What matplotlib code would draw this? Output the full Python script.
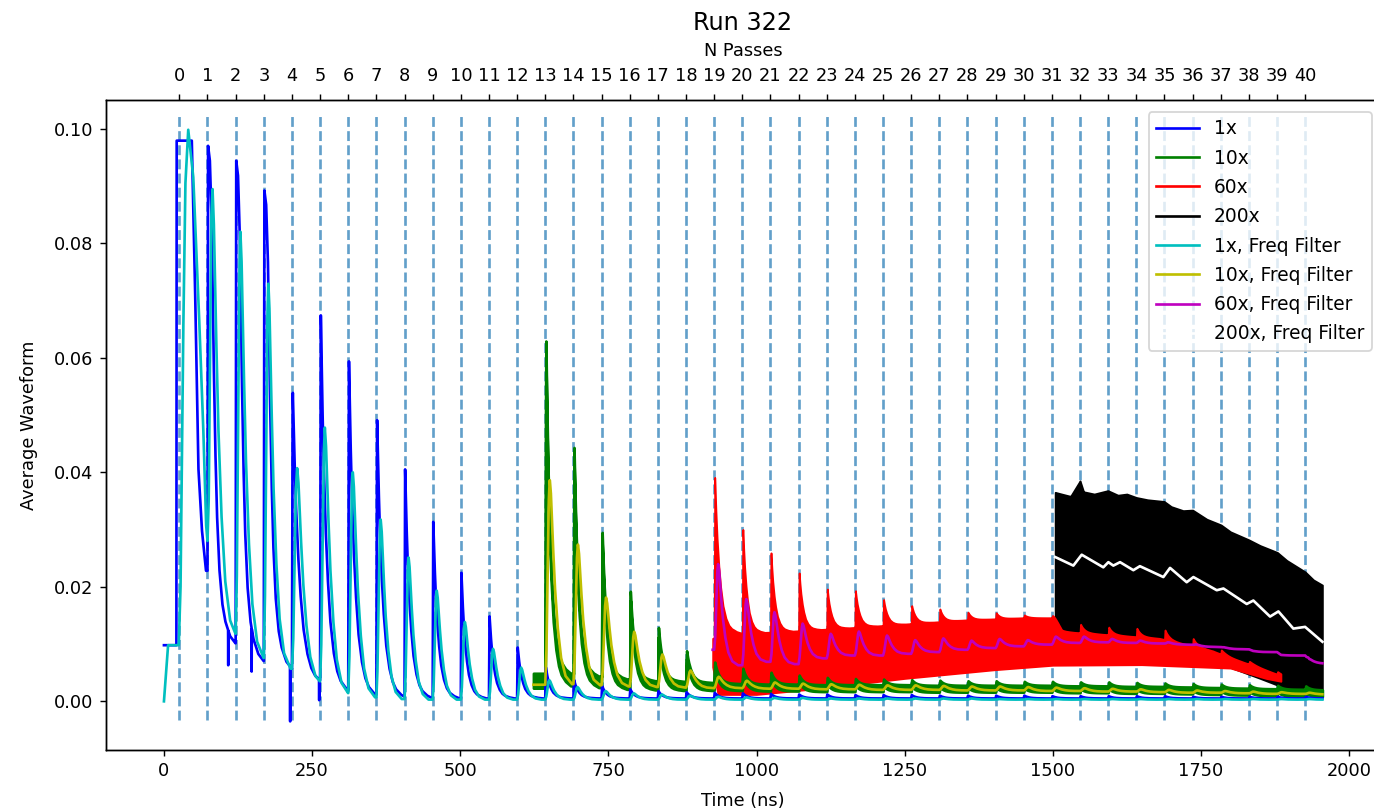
import numpy as np
import matplotlib
matplotlib.use("Agg")
import matplotlib.pyplot as plt
from matplotlib.lines import Line2D

# ---------------------------------------------------------------- pass timing
PASS_START = 26.0          # ns, time of pass 0
PASS_PERIOD = 47.5         # ns between passes
N_PASSES = 41
pass_times = PASS_START + PASS_PERIOD * np.arange(N_PASSES)
pass_labels = [str(i) for i in range(N_PASSES)]

T_END = 1955.0
RED_END = 1885.0

# normalised pulse shapes (ns after the pass -> fraction of the peak height)
RAW_DT = [0.0, 1.0, 3.0, 5.0, 8.0, 11.0, 15.0, 20.0, 25.0, 30.0, 38.0, 47.5]
RAW_SHAPE = [0.0, 1.0, 0.79, 0.62, 0.44, 0.31, 0.19, 0.107, 0.059, 0.033, 0.013, 0.0]
SAT_DT = [0.0, 1.0, 4.0, 7.0, 10.0, 13.0, 16.0, 20.0, 25.0, 30.0, 38.0, 47.5]
SAT_SHAPE = [0.0, 1.0, 0.97, 0.85, 0.6, 0.4, 0.26, 0.15, 0.08, 0.045, 0.015, 0.0]
FILT_DT = [0.0, 2.0, 4.0, 6.0, 8.0, 10.0, 13.0, 17.0, 22.0, 28.0, 36.0, 47.5]
FILT_SHAPE = [0.0, 0.15, 0.5, 0.88, 1.0, 0.93, 0.72, 0.48, 0.28, 0.13, 0.04, 0.0]

# ---------------------------------------------------------------- 1x
BLUE_P0_T = [0.0, 21.0, 21.5, 47.0, 52.0, 58.0, 64.0, 71.0, 73.5]
BLUE_P0_V = [0.0098, 0.0098, 0.0979, 0.0979, 0.075, 0.041, 0.030, 0.0228, 0.0228]
BLUE_PEAKS = [0.097, 0.0944, 0.0892, 0.0547, 0.068, 0.0599, 0.0498, 0.0405, 0.0315,
              0.0227, 0.015, 0.0095, 0.006, 0.0038, 0.0027, 0.0021, 0.0018, 0.0016,
              0.0015, 0.0014, 0.0013, 0.0012, 0.0012, 0.0011, 0.0011, 0.0011, 0.001,
              0.001, 0.001, 0.001, 0.0009, 0.0009, 0.0009, 0.0009, 0.0009, 0.0008,
              0.0008, 0.0008, 0.0008, 0.0008]
BLUE_FLOORS = [0.0101, 0.007, 0.0057, 0.0028, 0.0014, 0.0006] + [0.0005] * 34
BLUE_WIDTHS = [1.0, 1.0, 1.0, 1.3, 1.15, 1.15, 1.1, 1.0, 0.95] + [0.9] * 31
BLUE_DIP_T = [108.5, 148.0, 213.0, 262.0]
BLUE_DIP_V = [0.0063, 0.0052, -0.0035, 0.0002]

# ---------------------------------------------------------------- 1x, Freq Filter
CYAN_P0_T = [0.0, 7.0, 25.0, 28.0, 32.0, 36.0, 41.0, 49.5, 58.0, 66.0, 71.0, 73.5]
CYAN_P0_V = [0.0, 0.0098, 0.0098, 0.02, 0.06, 0.09, 0.0998, 0.0915, 0.0707, 0.049, 0.031, 0.028]
CYAN_PEAKS = [0.0895, 0.082, 0.0733, 0.0408, 0.0478, 0.0402, 0.0318, 0.0252, 0.0194,
              0.0139, 0.0092, 0.0059, 0.0037, 0.0025, 0.0018, 0.0014, 0.0012, 0.001,
              0.0008, 0.0007, 0.0006, 0.0006, 0.0005, 0.0005, 0.0005, 0.0005, 0.0005,
              0.0005, 0.0004, 0.0004, 0.0004, 0.0004, 0.0004, 0.0004, 0.0004, 0.0004,
              0.0004, 0.0004, 0.0004, 0.0004]
CYAN_FLOORS = [0.011, 0.0075, 0.0057, 0.0029, 0.0014, 0.0007, 0.0004] + [0.0003] * 33
CYAN_WIDTHS = [1.06, 1.0, 0.95, 1.1, 1.0, 0.95, 0.9, 0.85] + [0.85] * 32

# ---------------------------------------------------------------- 10x
GREEN_START = 623.5
GREEN_PRE = 0.0036
GREEN_PRE_NOISE = 0.0013
GREEN_PEAKS = [0.0625, 0.0438, 0.0289, 0.0186, 0.0122, 0.0082, 0.0063, 0.0052, 0.0045,
               0.004, 0.0036, 0.0034, 0.0033, 0.0032, 0.0031, 0.003, 0.003, 0.0029,
               0.0029, 0.0028, 0.0028, 0.0027, 0.0026, 0.0025, 0.0024, 0.0023, 0.0022,
               0.0021]
GREEN_FLOORS = [0.0038, 0.0034, 0.003, 0.0028, 0.0027, 0.0026, 0.0025, 0.0024, 0.0024,
                0.0023, 0.0023, 0.0023, 0.0023, 0.0022, 0.0022, 0.0022, 0.0022, 0.0022,
                0.0021, 0.0021, 0.002, 0.002, 0.0019, 0.0018, 0.0017, 0.0016, 0.0015,
                0.0014]
GREEN_NOISE = [0.0011, 0.001, 0.0009, 0.0008, 0.0008, 0.0007] + [0.0006] * 22
GREEN_WIDTHS = [0.9] * 28

# ---------------------------------------------------------------- 10x, Freq Filter
YELLOW_PRE = 0.0029
YELLOW_PEAKS = [0.0388, 0.0275, 0.0182, 0.0122, 0.0082, 0.0054, 0.0043, 0.0036, 0.0033,
                0.0031, 0.003, 0.0029, 0.0028, 0.0028, 0.0027, 0.0026, 0.0026, 0.0025,
                0.0024, 0.0023, 0.0022, 0.0021, 0.002, 0.0019, 0.0018, 0.0017, 0.0016,
                0.0015]
YELLOW_FLOORS = [0.003, 0.0028, 0.0026, 0.0025, 0.0024, 0.0023, 0.0023, 0.0022, 0.0022,
                 0.0021, 0.0021, 0.002, 0.002, 0.002, 0.0019, 0.0019, 0.0019, 0.0018,
                 0.0018, 0.0017, 0.0017, 0.0016, 0.0015, 0.0015, 0.0014, 0.0013, 0.0013,
                 0.0012]
YELLOW_WIDTHS = [0.95] * 28

# ---------------------------------------------------------------- 60x
RED_START = 926.0
RED_PEAKS = [0.0391, 0.0305, 0.0263, 0.0227, 0.0198, 0.0195, 0.0179, 0.0168, 0.0162,
             0.0156, 0.0155, 0.0151, 0.015, 0.0135, 0.013, 0.0128, 0.0125, 0.011, 0.009,
             0.007, 0.0052]
RED_WIDTHS = [1.0] + [0.8] * 20
RED_TOP_T = [926, 960, 1050, 1150, 1250, 1350, 1450, 1500, 1515, 1600, 1680, 1730,
             1770, 1800, 1840, 1885]
RED_TOP_V = [0.011, 0.0118, 0.0122, 0.0128, 0.0135, 0.0142, 0.0146, 0.0146, 0.0122,
             0.0116, 0.011, 0.0098, 0.0088, 0.0076, 0.0062, 0.0045]
RED_BOT_T = [926, 935, 1000, 1100, 1250, 1400, 1500, 1650, 1800, 1860, 1885]
RED_BOT_V = [0.006, 0.0012, 0.0012, 0.0022, 0.004, 0.0055, 0.0063, 0.0064, 0.0058,
             0.004, 0.0035]

# ---------------------------------------------------------------- 60x, Freq Filter
MAGENTA_PRE = 0.009
MAGENTA_PEAKS = [0.024, 0.0179, 0.0156, 0.0136, 0.0118, 0.0122, 0.0115, 0.0107, 0.011,
                 0.0106, 0.0109, 0.0107, 0.0113, 0.0113, 0.0109, 0.0106, 0.0103, 0.0099,
                 0.0094, 0.0088, 0.0081, 0.0074]
MAGENTA_FLOORS = [0.0063, 0.0069, 0.0065, 0.0075, 0.008, 0.008, 0.0083, 0.0086, 0.009,
                  0.0093, 0.0096, 0.0099, 0.0102, 0.0103, 0.0102, 0.0101, 0.0099, 0.0095,
                  0.0091, 0.0086, 0.008, 0.0066]
MAGENTA_WIDTHS = [0.85] * 22

# ---------------------------------------------------------------- 200x
BLACK_TOP_T = [1504, 1515, 1530, 1546, 1552, 1570, 1593, 1610, 1625, 1641, 1660, 1688,
               1700, 1720, 1736, 1760, 1784, 1800, 1831, 1850, 1879, 1895, 1926, 1940,
               1955]
BLACK_TOP_V = [0.0365, 0.0362, 0.0358, 0.0385, 0.0366, 0.0362, 0.0368, 0.036, 0.0362,
               0.0356, 0.0352, 0.0349, 0.034, 0.0333, 0.0334, 0.0318, 0.0308, 0.0296,
               0.0282, 0.0272, 0.026, 0.0246, 0.0226, 0.0212, 0.0203]
BLACK_BOT_T = [1504, 1560, 1620, 1680, 1740, 1790, 1850, 1880, 1920, 1955]
BLACK_BOT_V = [0.0122, 0.0118, 0.0114, 0.0105, 0.0085, 0.0063, 0.004, 0.0028, 0.0017,
               0.0012]

# ---------------------------------------------------------------- 200x, Freq Filter
WHITE_T = [1504, 1534.7, 1548.8, 1585.3, 1593.8, 1602.2, 1613.5, 1636, 1647, 1686.6,
           1697.9, 1726, 1737.3, 1776.7, 1788, 1827.3, 1838.5, 1866.7, 1880.8, 1906,
           1925.8, 1955]
WHITE_V = [0.0252, 0.0237, 0.0256, 0.0234, 0.0243, 0.0237, 0.0243, 0.0229, 0.0236,
           0.0217, 0.0233, 0.0208, 0.0217, 0.0194, 0.0197, 0.017, 0.0176, 0.0148,
           0.0157, 0.0127, 0.013, 0.0104]

# ---------------------------------------------------------------- pass markers
VLINE_LO = -0.0033
VLINE_HI = 0.1026

# ================================================================ waveform building
t = np.arange(0.0, T_END + 0.01, 0.25)


def pulse_train(first_pass, peaks, floors, widths, shape_dt, shape_val, start):
    """One pulse per pass: jump from the previous level to the peak, then
    decay towards that pass's floor following the given shape."""
    y = np.full(t.shape, np.nan)
    peak_dt = shape_dt[int(np.argmax(shape_val))]
    prev = start
    for i, (pk, fl, w) in enumerate(zip(peaks, floors, widths)):
        t0 = pass_times[first_pass + i]
        m = (t >= t0) & (t < t0 + PASS_PERIOD)
        if not m.any():
            continue
        dt = t[m] - t0
        rel = np.interp(dt / w, shape_dt, shape_val, left=0.0, right=0.0)
        fade = np.clip(1.0 - dt / (peak_dt * w), 0.0, 1.0)
        y[m] = fl + (pk - fl) * rel + (prev - fl) * fade
        prev = y[m][-1]
    return y


def merge(*parts):
    out = np.full(t.shape, np.nan)
    for p in parts:
        out = np.where(np.isnan(out), p, out)
    return out


def segment(t_from, t_to, values):
    y = np.full(t.shape, np.nan)
    m = (t >= t_from) & (t < t_to)
    y[m] = values[m] if np.ndim(values) else values
    return y


# 1x
blue_p0 = segment(0.0, pass_times[1], np.interp(t, BLUE_P0_T, BLUE_P0_V))
blue_sat = pulse_train(1, BLUE_PEAKS[:3], BLUE_FLOORS[:3], BLUE_WIDTHS[:3],
                       SAT_DT, SAT_SHAPE, BLUE_P0_V[-1])
blue_rest = pulse_train(4, BLUE_PEAKS[3:], BLUE_FLOORS[3:], BLUE_WIDTHS[3:],
                        RAW_DT, RAW_SHAPE, BLUE_FLOORS[2])
blue = merge(blue_p0, blue_sat, blue_rest)
for td, vd in zip(BLUE_DIP_T, BLUE_DIP_V):
    blue[np.argmin(np.abs(t - td))] = vd

# 1x filtered
cyan = merge(segment(0.0, pass_times[1], np.interp(t, CYAN_P0_T, CYAN_P0_V)),
             pulse_train(1, CYAN_PEAKS, CYAN_FLOORS, CYAN_WIDTHS, FILT_DT, FILT_SHAPE,
                         CYAN_P0_V[-1]))

# 10x (noisy band) and filtered
green = merge(segment(GREEN_START, pass_times[13], GREEN_PRE),
              pulse_train(13, GREEN_PEAKS, GREEN_FLOORS, GREEN_WIDTHS, RAW_DT, RAW_SHAPE,
                          GREEN_PRE))
green_noise = merge(segment(GREEN_START, pass_times[13], GREEN_PRE_NOISE),
                    *[segment(pass_times[13 + i], pass_times[13 + i] + PASS_PERIOD, hw)
                      for i, hw in enumerate(GREEN_NOISE)])

yellow = merge(segment(GREEN_START, pass_times[13], YELLOW_PRE),
               pulse_train(13, YELLOW_PEAKS, YELLOW_FLOORS, YELLOW_WIDTHS, FILT_DT,
                           FILT_SHAPE, YELLOW_PRE))

# 60x (noisy band) and filtered
red_m = (t >= RED_START) & (t <= RED_END)
red_top = np.interp(t, RED_TOP_T, RED_TOP_V)
red_bot = np.interp(t, RED_BOT_T, RED_BOT_V)
red_spikes = np.full(t.shape, -1.0)
for i, (pk, w) in enumerate(zip(RED_PEAKS, RED_WIDTHS)):
    t0 = pass_times[19 + i]
    m = (t >= t0) & (t < t0 + PASS_PERIOD)
    rel = np.interp((t[m] - t0) / w, RAW_DT, RAW_SHAPE, left=0.0, right=0.0)
    red_spikes[m] = red_top[m] + (pk - red_top[m]) * rel
red_upper = np.maximum(red_top, red_spikes)

magenta = merge(segment(RED_START, pass_times[19], MAGENTA_PRE),
                pulse_train(19, MAGENTA_PEAKS, MAGENTA_FLOORS, MAGENTA_WIDTHS, FILT_DT,
                            FILT_SHAPE, MAGENTA_PRE))

# 200x (noisy band)
black_m = t >= BLACK_TOP_T[0]
black_top = np.interp(t, BLACK_TOP_T, BLACK_TOP_V)
black_bot = np.interp(t, BLACK_BOT_T, BLACK_BOT_V)

# ================================================================ drawing
DPI = 128
fig = plt.figure(figsize=(1374 / DPI, 811 / DPI), dpi=DPI)
ax = fig.add_axes([0.0771, 0.0752, 0.9273, 0.8015])

XLIM = (-97.9, 2052.3)
YLIM = (-0.0085, 0.105)

ax.vlines(pass_times, VLINE_LO, VLINE_HI, colors="C0", linestyles="dashed",
          alpha=0.7, zorder=1)

ax.fill_between(t[black_m], black_bot[black_m], black_top[black_m], color="k",
                lw=1.0, zorder=2.0)
ax.fill_between(t[red_m], red_bot[red_m], red_upper[red_m], color="r",
                lw=1.0, zorder=2.1)
gm = ~np.isnan(green)
ax.fill_between(t[gm], (green - green_noise)[gm], (green + green_noise)[gm],
                color="g", lw=1.5, zorder=2.2)
ax.plot(t, blue, color="b", lw=1.5, zorder=2.3)
ax.plot(t, cyan, color="c", lw=1.5, zorder=2.4)
ax.plot(t, yellow, color="y", lw=1.5, zorder=2.5)
ax.plot(t, magenta, color="m", lw=1.5, zorder=2.6)
ax.plot(WHITE_T, WHITE_V, color="w", lw=1.5, zorder=2.7)

ax.set_xlim(XLIM)
ax.set_ylim(YLIM)
ax.set_xticks(np.arange(0, 2001, 250))
ax.set_yticks(np.arange(0.0, 0.101, 0.02))
ax.set_yticklabels([f"{v:.2f}" for v in np.arange(0.0, 0.101, 0.02)])
ax.set_xlabel("Time (ns)", labelpad=6.5)
ax.set_ylabel("Average Waveform", labelpad=9)

ax_top = ax.twiny()
ax_top.set_xlim(XLIM)
ax_top.set_xticks(pass_times)
ax_top.set_xticklabels(pass_labels)
ax_top.tick_params(axis="x", pad=5.2)
ax_top.set_xlabel("N Passes", labelpad=5.7)

ax.set_title("Run 322", fontsize=13.5, pad=7)

legend_labels = ["1x", "10x", "60x", "200x", "1x, Freq Filter", "10x, Freq Filter",
                 "60x, Freq Filter", "200x, Freq Filter"]
legend_colors = ["b", "g", "r", "k", "c", "y", "m", "w"]
handles = [Line2D([], [], color=c, lw=1.5) for c in legend_colors]
ax_top.legend(handles, legend_labels, loc="upper right", fontsize=10.5,
              labelspacing=0.55, handlelength=2.3, borderaxespad=0.0,
              bbox_to_anchor=(0.9936, 0.9815))

fig.savefig("out.png", dpi=DPI)
